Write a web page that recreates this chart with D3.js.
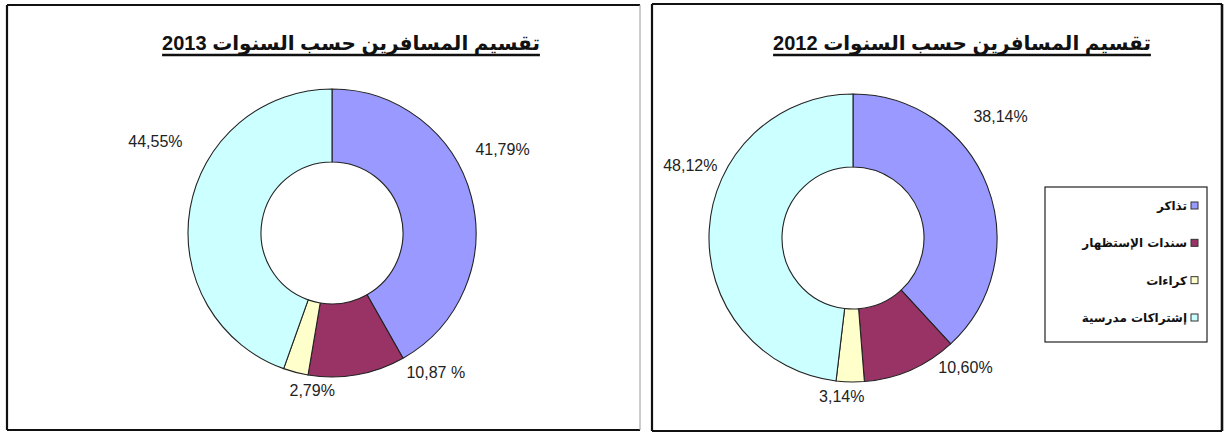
<!DOCTYPE html>
<html>
<head>
<meta charset="utf-8">
<script src="https://cdn.jsdelivr.net/npm/d3@7"></script>
<style>
  html, body { margin: 0; padding: 0; background: #ffffff; }
  svg { display: block; }
</style>
</head>
<body>
<svg id="chart" width="1230" height="434"></svg>
<script>
// ---- data ----
const categories = ["تذاكر", "سندات الإستظهار", "كراءات", "إشتراكات مدرسية"];
const years = ["2013", "2012"];
const values2013 = [41.79, 10.87, 2.79, 44.55];
const values2012 = [38.14, 10.60, 3.14, 48.12];
const labels2013 = ["41,79%", "10,87 %", "2,79%", "44,55%"];
const labels2012 = ["38,14%", "10,60%", "3,14%", "48,12%"];
const titleText = "تقسيم المسافرين حسب السنوات";

// ---- styles / layout ----
const colors = ["#9999ff", "#993366", "#ffffcc", "#ccffff"];
const color = d3.scaleOrdinal().domain(categories).range(colors);

const panels = [
  { year: years[0], values: values2013, labels: labels2013,
    box: [7, 5, 633, 425], cx: 332, cy: 233, titleX: 351, legend: false,
    nudges: [[10, -41], [75, -24], [22, -3], [-13, -63]] },
  { year: years[1], values: values2012, labels: labels2012,
    box: [652, 4, 570, 427], cx: 853, cy: 238, titleX: 962, legend: true,
    nudges: [[-7, -61], [46, -23], [-8, -7], [3, -63]] }
];
const R = 144, r0 = 71;

const svg = d3.select("#chart");
const pie = d3.pie().sort(null).value(d => d.v);
const arc = d3.arc().innerRadius(r0).outerRadius(R);
const labelArc = d3.arc().innerRadius(R + 22).outerRadius(R + 22);

panels.forEach((p, pi) => {
  const g = svg.append("g");
  const [bx, by, bw, bh] = p.box;
  g.append("rect").attr("x", bx).attr("y", by).attr("width", bw).attr("height", bh)
    .attr("fill", "#ffffff").attr("stroke", "none");
  const frame = [
    [bx, by, bx + bw, by, "#111", 2.2],
    [bx, by, bx, by + bh, "#111", 2.2],
    [bx, by + bh, bx + bw, by + bh, "#111", 2.2],
    [bx + bw, by, bx + bw, by + bh, pi === 0 ? "#9a9a9a" : "#111", pi === 0 ? 1 : 2.6]
  ];
  frame.forEach(f => g.append("line").attr("x1", f[0]).attr("y1", f[1]).attr("x2", f[2]).attr("y2", f[3])
    .attr("stroke", f[4]).attr("stroke-width", f[5]));

  // title
  const t = g.append("text")
    .attr("x", p.titleX).attr("y", 50)
    .attr("text-anchor", "middle")
    .attr("direction", "rtl")
    .attr("font-family", "'Liberation Sans', Arial, 'DejaVu Sans', sans-serif")
    .attr("font-weight", "bold").attr("font-size", 20).attr("fill", "#111")
    .text(titleText + " " + p.year);
  const tw = t.node().getComputedTextLength();
  g.append("line").attr("x1", p.titleX - tw / 2).attr("x2", p.titleX + tw / 2)
    .attr("y1", 55).attr("y2", 55).attr("stroke", "#111").attr("stroke-width", 2.5);

  // donut
  const data = pie(categories.map((c, i) => ({ c, v: p.values[i], lab: p.labels[i], i })));
  const dg = g.append("g").attr("transform", `translate(${p.cx},${p.cy})`);
  dg.selectAll("path.slice").data(data).join("path")
    .attr("class", "slice")
    .attr("d", arc)
    .attr("fill", d => color(d.data.c))
    .attr("stroke", "#222")
    .attr("stroke-width", 1.1)
    .attr("stroke-linejoin", "round");

  // labels
  dg.selectAll("text.lab").data(data).join("text")
    .attr("class", "lab")
    .attr("x", d => labelArc.centroid(d)[0] + p.nudges[d.data.i][0])
    .attr("y", d => labelArc.centroid(d)[1] + p.nudges[d.data.i][1])
    .attr("text-anchor", "middle")
    .attr("dominant-baseline", "central")
    .attr("font-family", "'Liberation Sans', Arial, sans-serif")
    .attr("font-size", 16).attr("fill", "#222")
    .text(d => d.data.lab);

  // legend
  if (p.legend) {
    const lx = 1045, ly = 187, lw = 162, lh = 155;
    const lg = g.append("g");
    lg.append("rect").attr("x", lx).attr("y", ly).attr("width", lw).attr("height", lh)
      .attr("fill", "#ffffff").attr("stroke", "#222").attr("stroke-width", 1.2);
    const ys = d3.scalePoint().domain(categories).range([ly + 19, ly + 131]);
    categories.forEach(c => {
      lg.append("rect").attr("x", 1191).attr("y", ys(c) - 4).attr("width", 7).attr("height", 7)
        .attr("fill", color(c)).attr("stroke", "#333").attr("stroke-width", 1);
      lg.append("text").attr("x", 1187).attr("y", ys(c))
        .attr("text-anchor", "end").attr("direction", "ltr")
        .attr("dominant-baseline", "central")
        .attr("font-family", "'DejaVu Sans', sans-serif")
        .attr("font-weight", "bold").attr("font-size", 12).attr("fill", "#111")
        .text(c);
    });
  }
});
</script>
</body>
</html>
